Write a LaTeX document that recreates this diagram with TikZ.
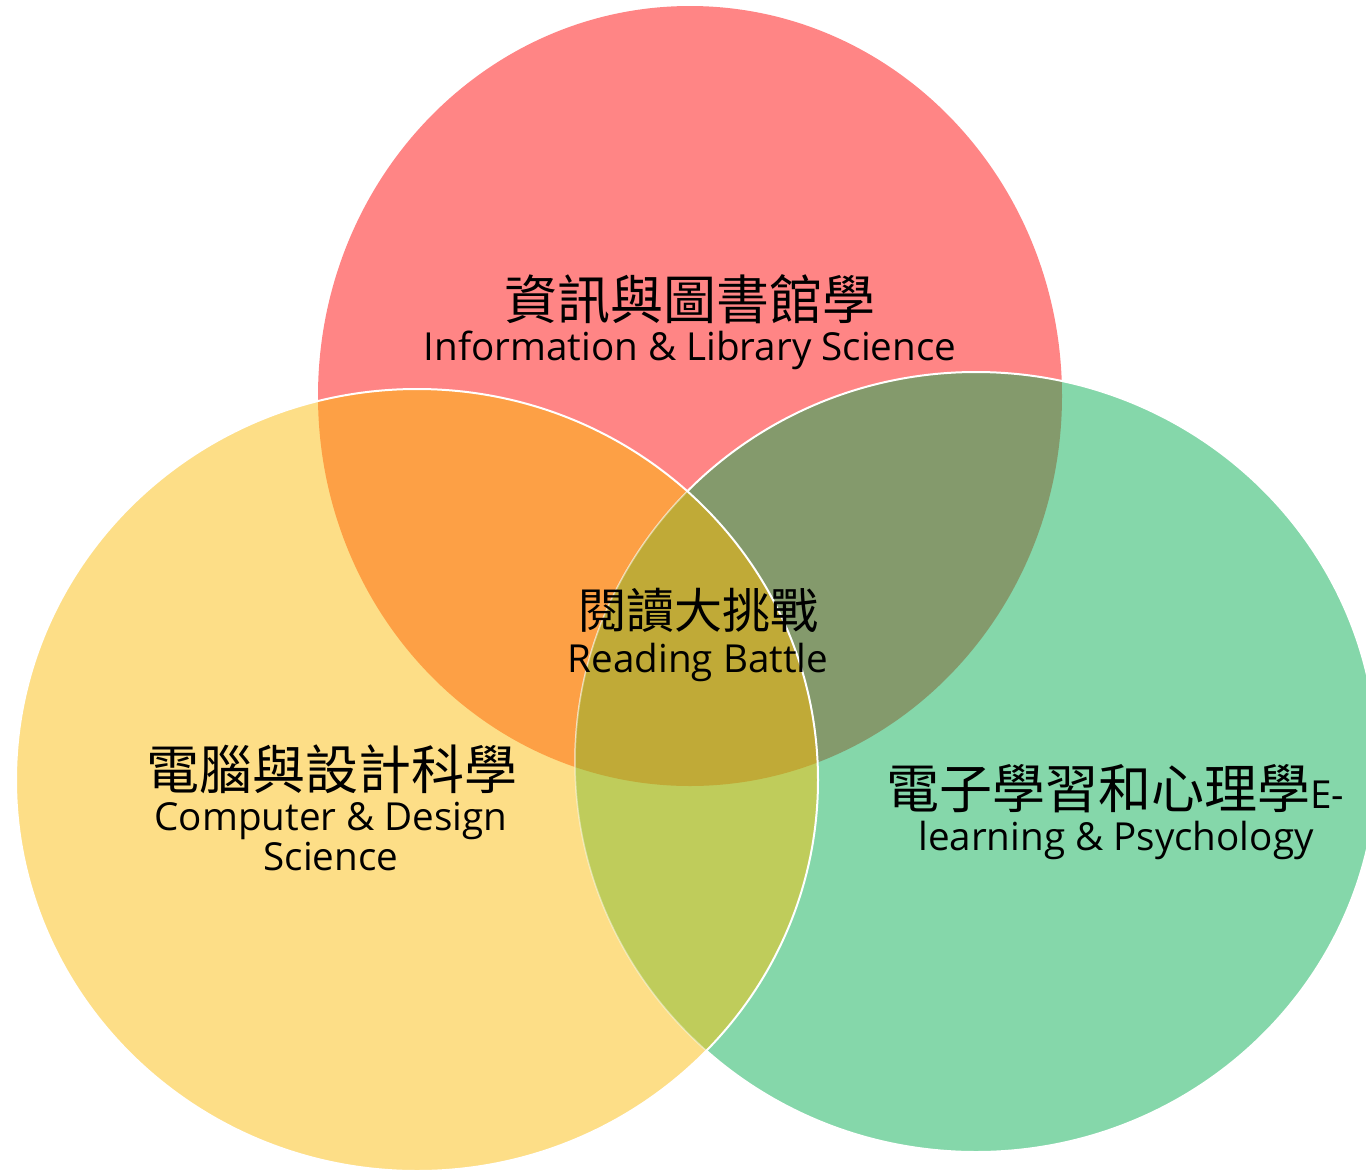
\documentclass[tikz,border=0pt]{standalone}
\usepackage{fontspec}
\setmainfont{Open Sans}
\newfontfamily\cjkfont{Noto Sans CJK TC}
\usepackage{xcolor}
\definecolor{ilsRed}{HTML}{FF8585}
\definecolor{cdsYellow}{HTML}{FDDE87}
\definecolor{elpGreen}{HTML}{85D7AA}
\definecolor{redYellow}{HTML}{FDA045}
\definecolor{redGreen}{HTML}{849A6C}
\definecolor{yellowGreen}{HTML}{BFCC5B}
\definecolor{allThree}{HTML}{C0AA37}
\tikzset{%
    venn edge/.style={draw=white, line width=2pt},
    faint edge/.style={draw=white, draw opacity=0.45, line width=1.5pt},
    zh label/.style={font=\cjkfont\fontsize{53}{60}\selectfont, anchor=base, inner sep=0pt},
    zh small/.style={font=\cjkfont\fontsize{48}{54}\selectfont, anchor=base, inner sep=0pt},
    en label/.style={font=\fontsize{38.6}{44}\selectfont, anchor=base, inner sep=0pt}
}
\usetikzlibrary{positioning}

\begin{document}
\begin{tikzpicture}[x=1pt, y=-1pt]
                        \useasboundingbox (0,0) rectangle (1366,1173);
                        \clip (0,0) rectangle (1366,1173);
                        % red and green first
                        \fill[ilsRed] (690,396) ellipse [x radius=372, y radius=390];
                        \fill[elpGreen] (976,762) ellipse [x radius=401, y radius=390];
                        \begin{scope}
                            \clip (690,396) ellipse [x radius=372, y radius=390];
                            \fill[redGreen] (976,762) ellipse [x radius=401, y radius=390];
                        \end{scope}
                        \draw[venn edge] (976,762) ellipse [x radius=401, y radius=390];
                        % yellow on top
                        \begin{scope}
                            \clip (417,780) ellipse [x radius=401, y radius=391];
                            \fill[cdsYellow] (417,780) ellipse [x radius=401, y radius=391];
                            \fill[redYellow] (690,396) ellipse [x radius=372, y radius=390];
                            \fill[yellowGreen] (976,762) ellipse [x radius=401, y radius=390];
                            \draw[faint edge] (976,762) ellipse [x radius=401, y radius=390];
                            \clip (690,396) ellipse [x radius=372, y radius=390];
                            \fill[allThree] (976,762) ellipse [x radius=401, y radius=390];
                            \draw[faint edge] (976,762) ellipse [x radius=401, y radius=390];
                        \end{scope}
                        \draw[venn edge] (417,780) ellipse [x radius=401, y radius=391];
                        % labels
                        \node[zh label] (ilsZh) at (690,319) {資訊與圖書館學};
                        \node[en label] (ilsEn) at (690,360) {Information \& Library Science};
                        \node[zh small] (rbZh) at (698,628) {閱讀大挑戰};
                        \node[en label] (rbEn) at (698,672) {Reading Battle};
                        \node[zh label] (cdsZh) at (332,789) {電腦與設計科學};
                        \node[en label] (cdsEn) at (331,830) {Computer \& Design};
                        \node[en label] (cdsEnTwo) at (331,870) {Science};
                        \node[zh label] (elpZh) at (1115,808) {電子學習和心理學{\fontspec{Open Sans}\fontsize{38.6}{44}\selectfont E-}};
                        \node[en label] (elpEn) at (1116,850) {learning \& Psychology};
                    \end{tikzpicture}
\end{document}
